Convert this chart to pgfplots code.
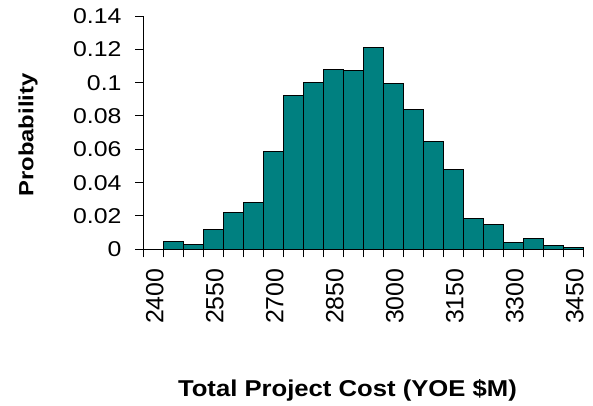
\documentclass[border=0pt]{standalone}
\usepackage{fontspec}
\setmainfont{Liberation Sans}
\newfontfamily\ytickfont[FakeStretch=1.16]{Liberation Sans}
\newfontfamily\xlabfont[FakeStretch=1.12]{Liberation Sans}
\newfontfamily\ylabfont[FakeStretch=1.16]{Liberation Sans}
\usepackage{pgfplots}
\pgfplotsset{compat=1.18}
\definecolor{barteal}{RGB}{0,128,128}
\begin{document}
\begin{tikzpicture}
\useasboundingbox (-143.3bp,-156.7bp) rectangle (449.7bp,249.3bp);
\begin{axis}[
  at={(0,0)}, anchor=south west,
  scale only axis, width=440bp, height=233.3bp,
  xmin=2375, xmax=3475, ymin=0, ymax=0.14,
  clip=false,
  axis x line*=bottom, axis y line*=left,
  axis line style={line width=1bp, black},
  tick align=outside,
  major tick length=8bp,
  tick style={line width=1bp, black},
  /pgf/number format/assume math mode=true,
  /pgf/number format/1000 sep={},
  xtick={2375,2425,...,3475},
  xticklabels={},
  extra x ticks={2400,2550,2700,2850,3000,3150,3300,3450},
  extra x tick labels={2400,2550,2700,2850,3000,3150,3300,3450},
  extra x tick style={major tick length=0pt,
    xticklabel style={yshift=-19bp, xshift=1.5bp, rotate=90, anchor=east, inner sep=0pt,
      font=\fontsize{25}{30}\selectfont}},
  ytick={0,0.02,0.04,0.06,0.08,0.1,0.12,0.14},
  yticklabels={0,0.02,0.04,0.06,0.08,0.1,0.12,0.14},
  yticklabel style={anchor=east, inner sep=0pt, xshift=-13.6bp,
    font=\ytickfont\fontsize{21.5}{25}\selectfont},
  xlabel={Total Project Cost (YOE \$M)},
  xlabel style={at={(axis description cs:0.464,-0.633)}, anchor=base,
    font=\xlabfont\bfseries\fontsize{23}{27}\selectfont},
  ylabel={Probability},
  ylabel style={at={(axis description cs:-0.2498,0.49)}, anchor=base,
    font=\ylabfont\bfseries\fontsize{20.6}{24}\selectfont},
]
\addplot[ybar, bar width=50, fill=barteal, draw=black, line width=1bp] coordinates {
(2450,0.0048) (2500,0.0030) (2550,0.0118) (2600,0.0218) (2650,0.0282)
(2700,0.0586) (2750,0.0922) (2800,0.1002) (2850,0.1078) (2900,0.1072)
(2950,0.1212) (3000,0.0992) (3050,0.0838) (3100,0.0648) (3150,0.0476)
(3200,0.0186) (3250,0.0148) (3300,0.0040) (3350,0.0062) (3400,0.0022)
(3450,0.0008)
};
\end{axis}
\end{tikzpicture}
\end{document}
